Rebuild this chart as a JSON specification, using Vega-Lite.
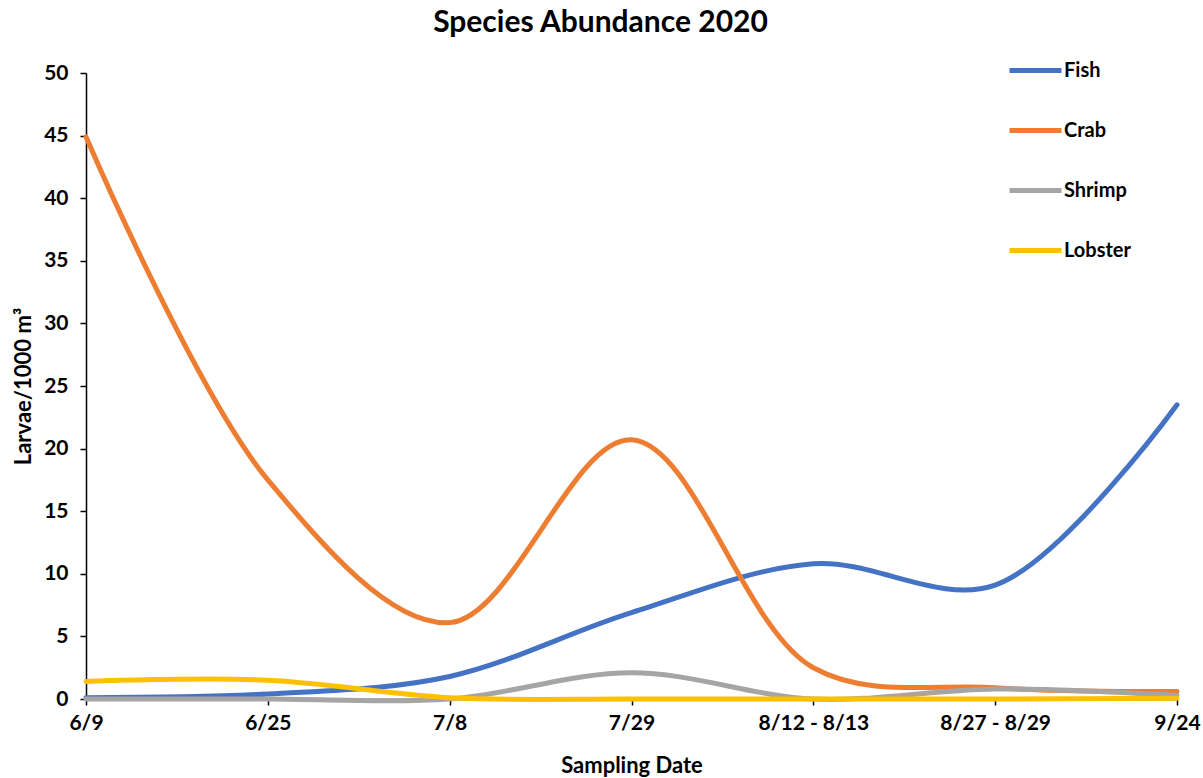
{
  "$schema": "https://vega.github.io/schema/vega-lite/v6.json",
  "autosize": {"type": "none"},
  "width": 1091,
  "height": 626,
  "padding": {"left": 86, "top": 73, "right": 26, "bottom": 79},
  "background": "white",
  "config": {
    "font": "Lato",
    "view": {"stroke": null},
    "axis": {"grid": false, "domainColor": "#000000", "tickColor": "#000000", "domainWidth": 1.5, "tickWidth": 1.5, "labelColor": "#000000", "titleColor": "#000000", "labelFont": "Lato", "titleFont": "Lato"}
  },
  "title": {
    "text": "Species Abundance 2020",
    "fontSize": 30,
    "fontWeight": "bold",
    "font": "Lato",
    "color": "#000000",
    "anchor": "middle",
    "dx": -31,
    "offset": 4
  },
  "data": {
    "values": [
      {"date": "6/9", "species": "Fish", "value": 0.1},
      {"date": "6/25", "species": "Fish", "value": 0.4},
      {"date": "7/8", "species": "Fish", "value": 1.8},
      {"date": "7/29", "species": "Fish", "value": 6.9},
      {"date": "8/12 - 8/13", "species": "Fish", "value": 10.8},
      {"date": "8/27 - 8/29", "species": "Fish", "value": 9.1},
      {"date": "9/24", "species": "Fish", "value": 23.5},
      {"date": "6/9", "species": "Crab", "value": 44.9},
      {"date": "6/25", "species": "Crab", "value": 17.5},
      {"date": "7/8", "species": "Crab", "value": 6.1},
      {"date": "7/29", "species": "Crab", "value": 20.7},
      {"date": "8/12 - 8/13", "species": "Crab", "value": 2.5},
      {"date": "8/27 - 8/29", "species": "Crab", "value": 0.9},
      {"date": "9/24", "species": "Crab", "value": 0.6},
      {"date": "6/9", "species": "Shrimp", "value": 0.0},
      {"date": "6/25", "species": "Shrimp", "value": 0.0},
      {"date": "7/8", "species": "Shrimp", "value": 0.0},
      {"date": "7/29", "species": "Shrimp", "value": 2.1},
      {"date": "8/12 - 8/13", "species": "Shrimp", "value": 0.0},
      {"date": "8/27 - 8/29", "species": "Shrimp", "value": 0.8},
      {"date": "9/24", "species": "Shrimp", "value": 0.3},
      {"date": "6/9", "species": "Lobster", "value": 1.4},
      {"date": "6/25", "species": "Lobster", "value": 1.5},
      {"date": "7/8", "species": "Lobster", "value": 0.1},
      {"date": "7/29", "species": "Lobster", "value": 0.0},
      {"date": "8/12 - 8/13", "species": "Lobster", "value": 0.0},
      {"date": "8/27 - 8/29", "species": "Lobster", "value": 0.0},
      {"date": "9/24", "species": "Lobster", "value": 0.05}
    ]
  },
  "mark": {"type": "line", "interpolate": "catmull-rom", "strokeWidth": 5, "strokeCap": "round"},
  "encoding": {
    "x": {
      "field": "date",
      "type": "ordinal",
      "sort": null,
      "scale": {"type": "point", "padding": 0},
      "axis": {"title": "Sampling Date", "labelAngle": 0, "labelFontSize": 21, "labelFontWeight": "bold", "titleFontSize": 22, "titleFontWeight": "bold", "tickSize": 6, "labelPadding": 7, "titlePadding": 22}
    },
    "y": {
      "field": "value",
      "type": "quantitative",
      "scale": {"domain": [0, 50], "nice": false},
      "axis": {"title": "Larvae/1000 m³", "values": [0, 5, 10, 15, 20, 25, 30, 35, 40, 45, 50], "labelFontSize": 21, "labelFontWeight": "bold", "titleFontSize": 22, "titleFontWeight": "bold", "tickSize": 6, "labelPadding": 12, "titlePadding": 8}
    },
    "color": {
      "field": "species",
      "type": "nominal",
      "scale": {"domain": ["Fish", "Crab", "Shrimp", "Lobster"], "range": ["#4472C4", "#ED7D31", "#A5A5A5", "#FFC000"]},
      "legend": {
        "title": null,
        "orient": "none",
        "legendX": 921,
        "legendY": -31,
        "symbolType": "stroke",
        "symbolSize": 2704,
        "symbolStrokeWidth": 5,
        "labelFontSize": 20,
        "labelFontWeight": "bold",
        "labelColor": "#000000",
        "labelOffset": 0,
        "rowPadding": 21
      }
    },
    "order": {"field": "species"}
  }
}
